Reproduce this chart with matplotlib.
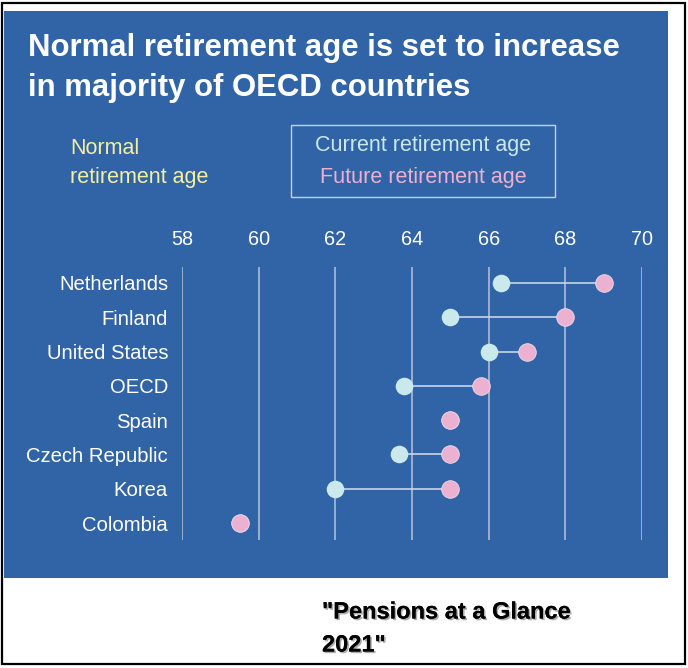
import matplotlib.pyplot as plt
import matplotlib.patheffects as pe
from matplotlib.patches import Rectangle

countries = ["Netherlands", "Finland", "United States", "OECD", "Spain",
             "Czech Republic", "Korea", "Colombia"]
current_age = [66.33, 65.0, 66.0, 63.8, 65.0, 63.67, 62.0, 59.5]
future_age = [69.0, 68.0, 67.0, 65.8, 65.0, 65.0, 65.0, 59.5]
ticks = [58, 60, 62, 64, 66, 68, 70]

W, H = 688, 668
bg = "#3164a7"
cyan = "#c9e9ec"
pink = "#ecb1d0"
yellow = "#f3f0a2"

plt.rcParams['font.family'] = ['Liberation Sans', 'DejaVu Sans']

fig = plt.figure(figsize=(W / 100, H / 100), dpi=100)
fig.patch.set_facecolor("white")


def fx(px):
    return px / W


def fy(py):
    return 1 - py / H


# blue panel and outer frame
fig.patches.append(Rectangle((fx(4), fy(578)), fx(664), (578 - 11) / H,
                             transform=fig.transFigure, facecolor=bg, edgecolor="none", zorder=-10))
fig.patches.append(Rectangle((fx(2), fy(664)), fx(683), 661 / H, transform=fig.transFigure,
                             facecolor="none", edgecolor="black", lw=1.6, zorder=5))

# title
fig.text(fx(28), fy(48), "Normal retirement age is set to increase", color="white",
         fontsize=22.4, fontweight="bold", va="center", ha="left")
fig.text(fx(28), fy(88), "in majority of OECD countries", color="white",
         fontsize=22.4, fontweight="bold", va="center", ha="left")

# legend-ish text
fig.text(fx(70), fy(149), "Normal", color=yellow, fontsize=15.5, va="center")
fig.text(fx(70), fy(177), "retirement age", color=yellow, fontsize=15.5, va="center")
fig.patches.append(Rectangle((fx(291), fy(197)), fx(264), 72 / H, transform=fig.transFigure,
                             facecolor="none", edgecolor="#c5d2ea", lw=1.0, zorder=3))
fig.text(fx(423), fy(145), "Current retirement age", color=cyan, fontsize=15.5,
         ha="center", va="center")
fig.text(fx(423), fy(177), "Future retirement age", color=pink, fontsize=15.5,
         ha="center", va="center")

# source
shadow = [pe.withSimplePatchShadow(offset=(1.2, -1.2), shadow_rgbFace="#777777", alpha=0.6),
          pe.Normal()]
fig.text(fx(322), fy(612), "\"Pensions at a Glance", color="black", fontsize=17,
         fontweight="bold", va="center", path_effects=shadow)
fig.text(fx(322), fy(645), "2021\"", color="black", fontsize=17,
         fontweight="bold", va="center", path_effects=shadow)

# dumbbell axes
ax = fig.add_axes([fx(182), fy(540), fx(642 - 182), (540 - 267) / H])
ax.set_facecolor("none")
ax.set_zorder(2)
ax.set_xlim(58, 70)
ax.set_ylim(7 + 17 / 34.29, -16 / 34.29)
for t in ticks:
    ax.axvline(t, color="#b5c4de", lw=1.1, zorder=1)

y = list(range(len(countries)))
for i in y:
    ax.plot([current_age[i], future_age[i]], [i, i], color="#c8d6ea", lw=1.2, zorder=2)
ax.scatter(current_age, y, s=160, color=cyan, zorder=3, clip_on=False, linewidths=0)
ax.scatter(future_age, y, s=160, color=pink, zorder=4, clip_on=False,
           edgecolors="#f3dde9", linewidths=0.6)

ax.set_xticks(ticks)
ax.set_xticklabels([str(t) for t in ticks])
ax.xaxis.tick_top()
ax.tick_params(axis="x", length=0, pad=13, labelsize=14.3, colors="white")
ax.set_yticks(y)
ax.set_yticklabels(countries)
ax.tick_params(axis="y", length=0, pad=10, labelsize=14.6, colors="white")
for s in ax.spines.values():
    s.set_visible(False)

fig.savefig("out.png", dpi=100, facecolor="white")
